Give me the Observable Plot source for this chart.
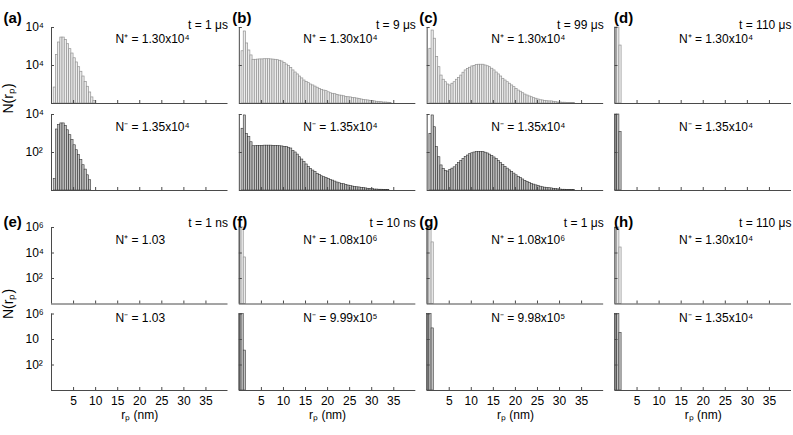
<!DOCTYPE html>
<html><head><meta charset="utf-8">
<script src="https://cdn.jsdelivr.net/npm/d3@7"></script>
<script src="https://cdn.jsdelivr.net/npm/@observablehq/plot@0.6"></script>
<style>
html,body{margin:0;padding:0;background:#fff;}
#chart{width:793px;height:435px;overflow:hidden;background:#fff;}
#chart svg{display:block;}
</style></head><body><div id="chart"></div>
<script>
// ---------- data (log10 of N(r_p) per 0.5 nm bin, starting at r_p = 0) ----------
const binWidth = 0.5;
const panelsTop = ["a", "b", "c", "d"];
const panelsBottom = ["e", "f", "g", "h"];
const timesTop = ["t = 1 μs", "t = 9 μs", "t = 99 μs", "t = 110 μs"];
const timesBottom = ["t = 1 ns", "t = 10 ns", "t = 1 μs", "t = 110 μs"];
const nPlusTop = ["1.30x10⁴", "1.30x10⁴", "1.30x10⁴", "1.30x10⁴"];
const nMinusTop = ["1.35x10⁴", "1.35x10⁴", "1.35x10⁴", "1.35x10⁴"];
const nPlusBottom = ["1.03", "1.08x10⁶", "1.08x10⁶", "1.30x10⁴"];
const nMinusBottom = ["1.03", "9.99x10⁵", "9.98x10⁵", "1.35x10⁴"];
const xTickValues = [5, 10, 15, 20, 25, 30, 35];
const xLabel = "rₚ (nm)";
const yLabel = "N(rₚ)";
const tickExpTop = [2, 4];
const tickLabelsTopPlus = ["10⁴", "10⁴"];
const tickLabelsTopMinus = ["10²", "10⁴"];
const tickExpBottom = [2, 4, 6];
const tickLabelsBottomPlus = ["10²", "10⁴", "10⁶"];
const tickLabelsBottomMinus = ["10²", "10", "10⁶"];

const logN_a_plus = [0, 0.84, 2.56, 3.21, 3.47, 3.47, 3.35, 3.12, 2.86, 2.63, 2.38, 2.16, 1.91, 1.67, 1.42, 1.14, 0.88, 0.58, 0.32, 0.14];
const logN_a_minus = [0, 0.6, 3.21, 3.44, 3.53, 3.53, 3.4, 3.17, 2.91, 2.65, 2.38, 2.12, 1.86, 1.6, 1.33, 1.1, 0.8, 0.54];
const logN_b_plus = [0,
  2.75, 3.79, 3.16, 2.79, 2.53, 2.30, 2.30, 2.31, 2.32, 2.32,
  2.33, 2.33, 2.33, 2.32, 2.31, 2.30, 2.28, 2.25, 2.21, 2.13,
  2.05, 1.97, 1.87, 1.74, 1.63, 1.53, 1.42, 1.32, 1.21, 1.13,
  1.07, 1.00, 0.95, 0.89, 0.83, 0.77, 0.72, 0.68, 0.65, 0.59,
  0.54, 0.51, 0.49, 0.45, 0.42, 0.41, 0.38, 0.35, 0.33, 0.32,
  0.29, 0.28, 0.26, 0.23, 0.21, 0.19, 0.17, 0.16, 0.14, 0.13,
  0.11, 0.09, 0.08, 0.07, 0.05, 0.05, 0.04, 0.03];
const logN_b_minus = [0,
  3.25, 3.95, 2.98, 2.81, 2.54, 2.33, 2.33, 2.34, 2.35, 2.35,
  2.36, 2.36, 2.36, 2.36, 2.35, 2.35, 2.34, 2.33, 2.32, 2.30,
  2.28, 2.25, 2.21, 2.08, 2.00, 1.89, 1.75, 1.63, 1.49, 1.37,
  1.23, 1.14, 1.05, 0.97, 0.88, 0.82, 0.75, 0.70, 0.65, 0.61,
  0.56, 0.52, 0.47, 0.42, 0.38, 0.35, 0.33, 0.30, 0.26, 0.24,
  0.21, 0.19, 0.17, 0.16, 0.14, 0.13, 0.11, 0.09, 0.08, 0.07,
  0.05, 0.05, 0.04, 0.04, 0.03, 0.03, 0.02];
const logN_c_plus = [0,
  2.88, 3.84, 3.41, 2.44, 1.91, 1.47, 1.25, 1.12, 1.00, 0.95,
  1.04, 1.12, 1.25, 1.35, 1.47, 1.62, 1.74, 1.81, 1.88, 1.95,
  1.98, 2.02, 2.04, 2.04, 2.04, 2.00, 1.96, 1.91, 1.83, 1.74,
  1.63, 1.53, 1.42, 1.30, 1.21, 1.12, 1.04, 0.95, 0.86, 0.77,
  0.68, 0.62, 0.54, 0.47, 0.42, 0.37, 0.33, 0.28, 0.25, 0.21,
  0.17, 0.16, 0.14, 0.12, 0.11, 0.11, 0.09, 0.07, 0.05, 0.05,
  0.04, 0.04, 0.02, 0.02, 0.02, 0.02];
const logN_c_minus = [0,
  2.98, 3.95, 3.33, 2.28, 1.75, 1.32, 1.14, 1.02, 1.00, 1.09,
  1.15, 1.22, 1.33, 1.44, 1.55, 1.66, 1.76, 1.84, 1.91, 1.96,
  2.00, 2.02, 2.03, 2.03, 2.02, 1.99, 1.95, 1.89, 1.82, 1.74,
  1.65, 1.55, 1.45, 1.34, 1.24, 1.15, 1.06, 0.98, 0.89, 0.80,
  0.72, 0.65, 0.58, 0.51, 0.45, 0.40, 0.35, 0.31, 0.27, 0.23,
  0.20, 0.17, 0.15, 0.13, 0.12, 0.11, 0.09, 0.08, 0.06, 0.05,
  0.04, 0.04, 0.03, 0.02, 0.02, 0.02];
const logN_d_plus = [4, 4, 3.05];
const logN_d_minus = [4, 4, 3.07];
const logN_e_plus = [];
const logN_e_minus = [];
const logN_f_plus = [6, 6, 3.65];
const logN_f_minus = [6, 6, 3.13];
const logN_g_plus = [6, 6, 4.83];
const logN_g_minus = [6, 6, 4.87];
const logN_h_plus = [6, 6, 4.43];
const logN_h_minus = [6, 6, 4.5];

// ---------- layout / style ----------
const W = 793, ML = 51, MR = 2;
const fxPad = 0.0603;
const bw = (W - ML - MR) / (4 - fxPad) * (1 - fxPad);
const FONT = "'Liberation Sans', Arial, Helvetica, sans-serif";
const PLUS = "+", MINUS = "−";
const letterDx = [-48, -7, -8, -1];

function buildRow(cfg) {
  const bars = [];
  cfg.panels.forEach((p, i) => {
    [[PLUS, cfg.plus[i]], [MINUS, cfg.minus[i]]].forEach(([s, arr]) => {
      arr.forEach((v, k) => {
        if (v > 0) bars.push({panel: p, sign: s, r0: k * binWidth, r1: (k + 1) * binWidth, logN: v});
      });
    });
  });
  const info = cfg.panels.map((p, i) => ({
    panel: p, letter: `(${p})`, time: cfg.times[i],
    plusText: `N⁺ = ${cfg.nPlus[i]}`, minusText: `N⁻ = ${cfg.nMinus[i]}`
  }));
  const yTickLabels = [];
  cfg.tickExp.forEach((e, j) => {
    yTickLabels.push({panel: cfg.panels[0], sign: PLUS, e, label: cfg.tickPlus[j]});
    yTickLabels.push({panel: cfg.panels[0], sign: MINUS, e, label: cfg.tickMinus[j]});
  });
  const xTickLabels = cfg.panels.flatMap(p => xTickValues.map(v => ({panel: p, sign: MINUS, v})));
  const fh = cfg.facetH;
  const marks = [
    Plot.rectY(bars.filter(d => d.sign === PLUS), {fx: "panel", fy: "sign", x1: "r0", x2: "r1", y1: 0, y2: "logN",
      fill: "#ececec", stroke: "#939393", strokeWidth: 0.7}),
    Plot.rectY(bars.filter(d => d.sign === MINUS), {fx: "panel", fy: "sign", x1: "r0", x2: "r1", y1: 0, y2: "logN",
      fill: "#c4c4c4", stroke: "#353535", strokeWidth: 0.6}),
    Plot.ruleX([0], {stroke: "#4a4a4a", strokeWidth: 1}),
    Plot.ruleY([0], {stroke: "#4a4a4a", strokeWidth: 1}),
    Plot.tickX(xTickValues, {x: d => d, insetTop: fh - 3, stroke: "#4a4a4a"}),
    Plot.tickY(cfg.tickExp, {y: d => d, insetRight: bw - 3, stroke: "#4a4a4a"}),
    Plot.text(yTickLabels, {fx: "panel", fy: "sign", y: "e", text: "label", frameAnchor: "left", dx: -26,
      textAnchor: "start", fontSize: 12, fill: "#000"}),
    Plot.text(info, {fx: "panel", fy: () => PLUS, text: "time", frameAnchor: "top-right", dy: cfg.timeDy,
      textAnchor: "end", fontSize: 12, fill: "#000"}),
    Plot.text(info, {fx: "panel", fy: () => PLUS, text: "plusText", frameAnchor: "top-left", dx: 64, dy: cfg.plusDy,
      textAnchor: "start", fontSize: 12, fill: "#000"}),
    Plot.text(info, {fx: "panel", fy: () => MINUS, text: "minusText", frameAnchor: "top-left", dx: 64, dy: cfg.minusDy,
      textAnchor: "start", fontSize: 12, fill: "#000"}),
    ...info.map((d, i) => Plot.text([d], {fx: "panel", fy: () => PLUS, text: "letter", frameAnchor: "top-left",
      dx: letterDx[i], dy: cfg.letterDy, textAnchor: "start", fontSize: 15, fontWeight: "bold", fill: "#000"})),
    Plot.text([info[0]], {fx: "panel", fy: () => PLUS, text: () => yLabel, frameAnchor: "bottom-left",
      dx: -39, dy: cfg.yLabelDy, rotate: -90, textAnchor: "middle", fontSize: 14, fill: "#000"})
  ];
  if (cfg.showX) {
    marks.push(Plot.text(xTickLabels, {fx: "panel", fy: "sign", x: "v", text: d => String(d.v), frameAnchor: "bottom",
      dy: 14, fontSize: 12, fill: "#000"}));
    marks.push(Plot.text(info, {fx: "panel", fy: () => MINUS, text: () => xLabel, frameAnchor: "bottom",
      dy: 28, fontSize: 12, fill: "#000"}));
  }
  return Plot.plot({
    width: W, height: cfg.height,
    marginLeft: ML, marginRight: MR, marginTop: cfg.marginTop, marginBottom: cfg.marginBottom,
    style: {fontFamily: FONT, fontSize: "12px", background: "#fff", color: "#000", overflow: "visible"},
    x: {domain: [0, 40], axis: null},
    y: {domain: [0, cfg.yMax], axis: null},
    fx: {domain: cfg.panels, axis: null, paddingInner: fxPad, paddingOuter: 0, round: false},
    fy: {domain: [PLUS, MINUS], axis: null, paddingInner: cfg.fyPad, paddingOuter: 0, round: false},
    marks
  });
}

const rowTopChart = buildRow({
  panels: panelsTop, times: timesTop, nPlus: nPlusTop, nMinus: nMinusTop,
  plus: [logN_a_plus, logN_b_plus, logN_c_plus, logN_d_plus],
  minus: [logN_a_minus, logN_b_minus, logN_c_minus, logN_d_minus],
  yMax: 4, tickExp: tickExpTop, tickPlus: tickLabelsTopPlus, tickMinus: tickLabelsTopMinus,
  height: 197, marginTop: 27, marginBottom: 7, fyPad: 11 / 87, facetH: 76,
  timeDy: -7, plusDy: 7, minusDy: 8, letterDy: -15, yLabelDy: -5, showX: false
});
const rowBottomChart = buildRow({
  panels: panelsBottom, times: timesBottom, nPlus: nPlusBottom, nMinus: nMinusBottom,
  plus: [logN_e_plus, logN_f_plus, logN_g_plus, logN_h_plus],
  minus: [logN_e_minus, logN_f_minus, logN_g_minus, logN_h_minus],
  yMax: 6, tickExp: tickExpBottom, tickPlus: tickLabelsBottomPlus, tickMinus: tickLabelsBottomMinus,
  height: 238, marginTop: 30, marginBottom: 45, fyPad: 10 / 86.5, facetH: 76.5,
  timeDy: -9, plusDy: 8, minusDy: -1, letterDy: -11, yLabelDy: 0, showX: true
});
const chartEl = document.getElementById("chart");
chartEl.appendChild(rowTopChart);
chartEl.appendChild(rowBottomChart);
</script></body></html>
